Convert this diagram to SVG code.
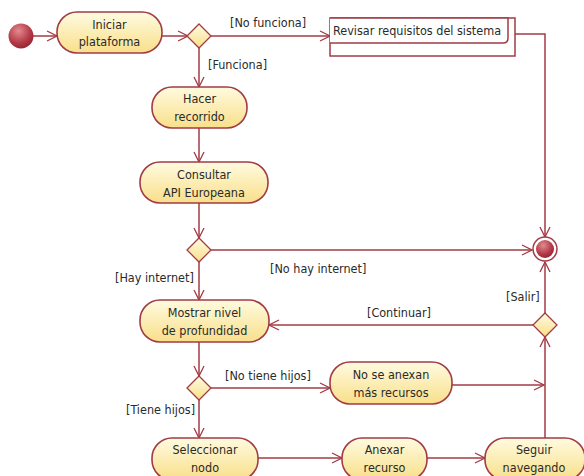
<svg xmlns="http://www.w3.org/2000/svg" width="584" height="476" viewBox="0 0 584 476">
<defs>
<linearGradient id="ga" x1="0" y1="0" x2="0" y2="1"><stop offset="0" stop-color="#fffbe0"/><stop offset="1" stop-color="#f9df8a"/></linearGradient>
<radialGradient id="gr" cx="0.4" cy="0.3" r="0.8"><stop offset="0" stop-color="#e28a90"/><stop offset="0.6" stop-color="#b33a46"/><stop offset="1" stop-color="#8c1f2c"/></radialGradient>
<marker id="ar" viewBox="0 0 12 12" refX="11" refY="6" markerWidth="12" markerHeight="12" markerUnits="userSpaceOnUse" orient="auto"><path d="M1,1 L11,6 L1,11" fill="none" stroke="#a23b45" stroke-width="1.3"/></marker>
<style>
.act{fill:url(#ga);stroke:#a23b45;stroke-width:1.6}
.dec{fill:url(#ga);stroke:#a23b45;stroke-width:1.3}
.c{fill:none;stroke:#a23b45;stroke-width:1.5}
.t{font-family:"DejaVu Sans Condensed","DejaVu Sans",sans-serif;font-size:12.5px;fill:#2a2a2a;text-anchor:middle}
.l{font-family:"DejaVu Sans Condensed","DejaVu Sans",sans-serif;font-size:12.5px;fill:#2a2a2a}
</style>
</defs>
<rect width="584" height="476" fill="#ffffff"/>
<g id="connectors">
<path class="c" d="M33,36 H57" marker-end="url(#ar)"/>
<path class="c" d="M162,36 H188" marker-end="url(#ar)"/>
<path class="c" d="M211,36 H330" marker-end="url(#ar)"/>
<path class="c" d="M199,48 V87" marker-end="url(#ar)"/>
<path class="c" d="M515,34 H545 V237" marker-end="url(#ar)"/>
<path class="c" d="M199,128 V162" marker-end="url(#ar)"/>
<path class="c" d="M199,203 V238" marker-end="url(#ar)"/>
<path class="c" d="M211,250 H532" marker-end="url(#ar)"/>
<path class="c" d="M199,262 V300" marker-end="url(#ar)"/>
<path class="c" d="M533,325 H269" marker-end="url(#ar)"/>
<path class="c" d="M545,313 V262" marker-end="url(#ar)"/>
<path class="c" d="M199,342 V376" marker-end="url(#ar)"/>
<path class="c" d="M211,388 H330" marker-end="url(#ar)"/>
<path class="c" d="M199,400 V438" marker-end="url(#ar)"/>
<path class="c" d="M452,385 H544" marker-end="url(#ar)"/>
<path class="c" d="M545,438 V337" marker-end="url(#ar)"/>
<path class="c" d="M258,458 H342" marker-end="url(#ar)"/>
<path class="c" d="M427,458 H485" marker-end="url(#ar)"/>
<text class="l" x="230" y="27">[No funciona]</text>
<text class="l" x="208" y="69">[Funciona]</text>
<text class="l" x="270" y="273">[No hay internet]</text>
<text class="l" x="115" y="282">[Hay internet]</text>
<text class="l" x="506" y="301">[Salir]</text>
<text class="l" x="367" y="317">[Continuar]</text>
<text class="l" x="225" y="380">[No tiene hijos]</text>
<text class="l" x="126" y="414">[Tiene hijos]</text>
</g>
<g id="start"><circle cx="21" cy="36" r="12.5" fill="url(#gr)"/></g>
<g id="iniciar"><rect class="act" x="57" y="12" width="105" height="41" rx="20"/><text class="t" x="109.5" y="29">Iniciar</text><text class="t" x="109.5" y="46">plataforma</text></g>
<g id="d1"><path class="dec" d="M199,24 L211,36 L199,48 L187,36 Z"/></g>
<g id="revisar"><rect x="330" y="18" width="185" height="38" fill="#fff" stroke="#a23b45" stroke-width="1.5"/><path d="M330,18 H508 V38 Q508,43 503,43 H330" fill="#fff" stroke="#a23b45" stroke-width="1.5"/><text class="l" x="333" y="35">Revisar requisitos del sistema</text></g>
<g id="hacer"><rect class="act" x="152" y="87" width="95" height="41" rx="20"/><text class="t" x="199.5" y="103">Hacer</text><text class="t" x="199.5" y="121">recorrido</text></g>
<g id="consultar"><rect class="act" x="140" y="162" width="128" height="41" rx="20"/><text class="t" x="204" y="179">Consultar</text><text class="t" x="204" y="197">API Europeana</text></g>
<g id="d2"><path class="dec" d="M199,238 L211,250 L199,262 L187,250 Z"/></g>
<g id="final"><circle cx="545" cy="249" r="12" fill="#fff" stroke="#a23b45" stroke-width="1.5"/><circle cx="545" cy="249" r="9" fill="url(#gr)"/></g>
<g id="mostrar"><rect class="act" x="140" y="300" width="129" height="42" rx="20"/><text class="t" x="204.5" y="317">Mostrar nivel</text><text class="t" x="204.5" y="335">de profundidad</text></g>
<g id="d3"><path class="dec" d="M545,313 L557,325 L545,337 L533,325 Z"/></g>
<g id="d4"><path class="dec" d="M199,376 L211,388 L199,400 L187,388 Z"/></g>
<g id="noanexan"><rect class="act" x="330" y="362" width="122" height="42" rx="20"/><text class="t" x="391" y="379">No se anexan</text><text class="t" x="391" y="397">más recursos</text></g>
<g id="seleccionar"><rect class="act" x="152" y="438" width="106" height="42" rx="20"/><text class="t" x="205" y="454">Seleccionar</text><text class="t" x="205" y="472">nodo</text></g>
<g id="anexar"><rect class="act" x="342" y="438" width="85" height="42" rx="20"/><text class="t" x="384.5" y="454">Anexar</text><text class="t" x="384.5" y="472">recurso</text></g>
<g id="seguir"><rect class="act" x="485" y="438" width="100" height="42" rx="20"/><text class="t" x="534" y="454">Seguir</text><text class="t" x="534" y="472">navegando</text></g>
</svg>
